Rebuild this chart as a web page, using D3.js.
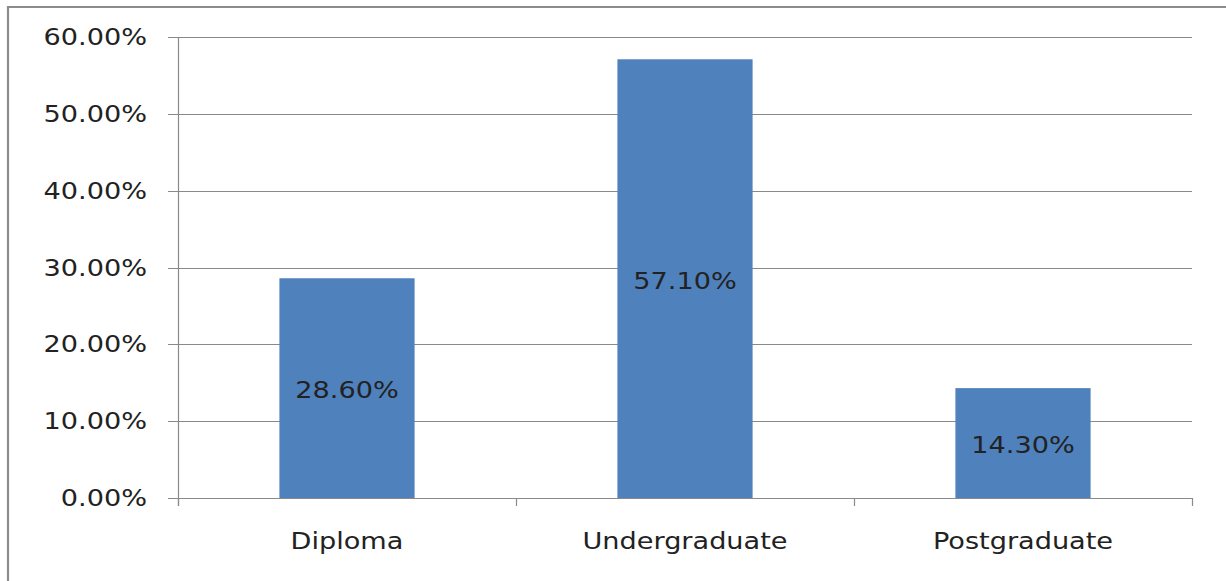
<!DOCTYPE html>
<html>
<head>
<meta charset="utf-8">
<script src="https://cdn.jsdelivr.net/npm/d3@7"></script>
<style>
  html, body { margin: 0; padding: 0; background: #ffffff; }
  svg { display: block; }
  text { font-family: "DejaVu Sans", Verdana, sans-serif; fill: #222222; }
</style>
</head>
<body>
<svg id="chart" width="1226" height="581"></svg>
<script>
const categories = ["Diploma", "Undergraduate", "Postgraduate"];
const values = [28.6, 57.1, 14.3];
const valueLabels = ["28.60%", "57.10%", "14.30%"];
const yTicks = [0, 10, 20, 30, 40, 50, 60];
const yTickLabels = ["0.00%", "10.00%", "20.00%", "30.00%", "40.00%", "50.00%", "60.00%"];

const W = 1226, H = 581;
const plot = { left: 178, right: 1192, top: 37, bottom: 498 };
const fontSize = 23;
const stretch = 1.18;
const gridColor = "#8a8a8a";

const svg = d3.select("#chart");

const x = d3.scaleBand().domain(categories)
  .range([plot.left, plot.right]).paddingInner(0.6).paddingOuter(0.3);
const xEdge = d3.scaleLinear().domain([0, categories.length]).range([plot.left, plot.right]);
const y = d3.scaleLinear().domain([0, 60]).range([plot.bottom, plot.top]);

const crisp = v => Math.round(v) + 0.5;

// outer frame (left + top)
svg.append("path")
  .attr("d", `M8,${H} L8,7 L${W},7`)
  .attr("fill", "none").attr("stroke", "#8c8c8c").attr("stroke-width", 2.2);

// gridlines (with left tick extension)
svg.append("g").selectAll("line").data(yTicks).join("line")
  .attr("x1", plot.left - 10).attr("x2", plot.right)
  .attr("y1", d => crisp(y(d))).attr("y2", d => crisp(y(d)))
  .attr("stroke", gridColor).attr("stroke-width", 1.2);

// bars
svg.append("g").selectAll("rect").data(values).join("rect")
  .attr("x", (d, i) => x(categories[i]))
  .attr("width", x.bandwidth())
  .attr("y", d => y(d))
  .attr("height", d => y(0) - y(d))
  .attr("fill", "#4f81bd");

// y axis line
svg.append("line")
  .attr("x1", crisp(plot.left)).attr("x2", crisp(plot.left))
  .attr("y1", y(60)).attr("y2", plot.bottom + 8)
  .attr("stroke", gridColor).attr("stroke-width", 1.2);

// x axis category boundary ticks
svg.append("g").selectAll("line").data(d3.range(categories.length + 1)).join("line")
  .attr("x1", d => crisp(xEdge(d))).attr("x2", d => crisp(xEdge(d)))
  .attr("y1", plot.bottom).attr("y2", plot.bottom + 8)
  .attr("stroke", gridColor).attr("stroke-width", 1.2);

function stretchedText(g, px, py, txt, anchor) {
  g.append("text")
    .attr("transform", `translate(${px},${py}) scale(${stretch},1)`)
    .attr("text-anchor", anchor)
    .attr("font-size", fontSize)
    .text(txt);
}

// y tick labels
const yl = svg.append("g");
yTicks.forEach((t, i) => stretchedText(yl, 147, y(t) + 8, yTickLabels[i], "end"));

// category labels
const xl = svg.append("g");
categories.forEach(c => stretchedText(xl, x(c) + x.bandwidth() / 2, 549, c, "middle"));

// value labels inside bars
const vl = svg.append("g");
values.forEach((v, i) => {
  const mid = (y(v) + y(0)) / 2;
  stretchedText(vl, x(categories[i]) + x.bandwidth() / 2, mid + 10, valueLabels[i], "middle");
});
</script>
</body>
</html>
